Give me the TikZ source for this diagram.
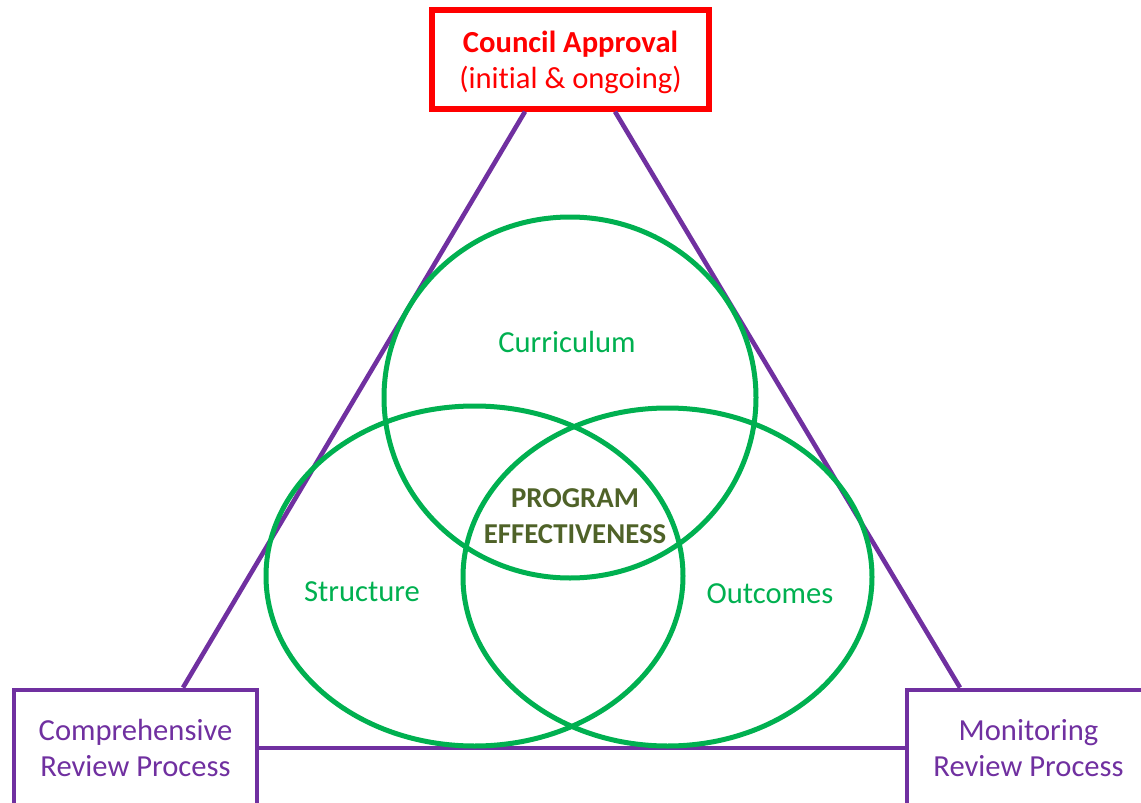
\documentclass[tikz,border=0pt]{standalone}
\usepackage{fontspec}
\setmainfont{Carlito}[Ligatures=NoCommon]
\usetikzlibrary{positioning}
\definecolor{vgreen}{HTML}{00B050}
\definecolor{vpurple}{HTML}{7030A0}
\definecolor{volive}{HTML}{4F6228}
\definecolor{vred}{HTML}{FF0000}
\begin{document}
\begin{tikzpicture}[x=0.5pt, y=-0.5pt,
  txt/.style={font=\fontsize{15.3}{18}\selectfont, align=center},
  boxp/.style={txt, draw=vpurple, line width=2.4pt, text=vpurple, inner sep=0pt},
  ring/.style={draw=vgreen, line width=2.5pt},
  tri/.style={draw=vpurple, line width=2.3pt},
  lbl/.style={txt, text=vgreen}]

  \path[use as bounding box, clip] (0,0) rectangle (1141,803);

  \node[txt, draw=vred, line width=2.6pt, text=vred, minimum width=138.5pt, minimum height=49.5pt]
    (approval) at (570.5,59.5) {\rule{0pt}{14pt}\textbf{Council Approval}\\(init\kern0pt ial \& ongoing)};
  \node[boxp, minimum width=121.5pt, minimum height=58pt] (comp) at (135.5,748)
    {Comprehensive\\Review Process};
  \node[boxp, minimum width=121.5pt, minimum height=58pt] (monitor) at (1028.5,748)
    {Monitoring\\Review Process};

  \draw[tri] ([xshift=-22.75pt]approval.south) -- ([xshift=23.75pt]comp.north);
  \draw[tri] ([xshift=22.25pt]approval.south) -- ([xshift=-34.25pt]monitor.north);
  \draw[tri] (comp.east) -- (monitor.west);

  \draw[ring] (570,397.5) ellipse [x radius=186, y radius=180.5];
  \draw[ring] (474.5,576) ellipse [x radius=208.5, y radius=170];
  \draw[ring] (667.5,577) ellipse [x radius=204.5, y radius=169];

  \node[lbl] (curriculum) at (567,342) {Curriculum};
  \node[lbl] (structure) at (362,592) {Structure};
  \node[lbl] (outcomes) at (770,594) {Outcomes};
  \node[align=center, text=volive, font=\fontsize{14.4}{18}\selectfont\bfseries]
    (effect) at (575,516) {PROGRAM\\EFFECTIVENESS};
\end{tikzpicture}
\end{document}
